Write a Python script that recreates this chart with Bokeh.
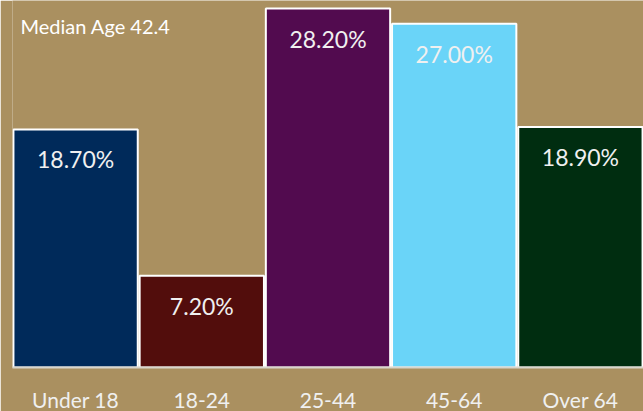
import re
from bokeh.plotting import figure
from bokeh.models import ColumnDataSource, Label, Range1d
from bokeh.core.properties import value
from bokeh.embed import file_html
from bokeh.resources import INLINE

categories = ["Under 18", "18-24", "25-44", "45-64", "Over 64"]
shares = [18.7, 7.2, 28.2, 27.0, 18.9]
labels = ["18.70%", "7.20%", "28.20%", "27.00%", "18.90%"]
colors = ["#002A5A", "#520D0C", "#520B4F", "#6AD4F8", "#002D10"]
subtitle = "Median Age 42.4"

BG = "#AA9060"
FONT = "Lato"

src = ColumnDataSource(dict(cat=categories, val=shares, lab=labels, col=colors))

p = figure(x_range=categories, y_range=Range1d(0, 28.83),
           frame_width=631, frame_height=367, output_backend="svg", toolbar_location=None,
           min_border_left=12, min_border_right=0, min_border_top=0, min_border_bottom=0,
           background_fill_color=BG, border_fill_color=BG, outline_line_color=None)

p.vbar(x="cat", top="val", width=0.985, bottom=0, source=src,
       fill_color="col", line_color="#FFFFFF", line_width=2)

p.text(x="cat", y="val", text="lab", source=src, y_offset=30,
       text_align="center", text_baseline="middle",
       text_font=value(FONT), text_font_size="23px", text_color="#F0F0F0")

p.add_layout(Label(x=8, y=342, x_units="screen", y_units="screen", text=subtitle,
                   text_font=FONT, text_font_size="20px", text_color="#FFFFFF",
                   text_baseline="middle"))

p.yaxis.visible = False
p.xgrid.visible = False
p.ygrid.visible = False
ax = p.xaxis[0]
ax.axis_line_color = "#D9D6CC"
ax.axis_line_width = 2
ax.major_tick_line_color = None
ax.minor_tick_line_color = None
ax.major_label_standoff = 13
ax.major_label_text_font = FONT
ax.major_label_text_font_size = "21px"
ax.major_label_text_color = "#F0F0F0"

html = file_html(p, INLINE)
html = re.sub(r"<body[^>]*>", '<body style="margin:0;overflow:hidden;background:%s">' % BG, html, count=1)
open("out.html", "w").write(html)
